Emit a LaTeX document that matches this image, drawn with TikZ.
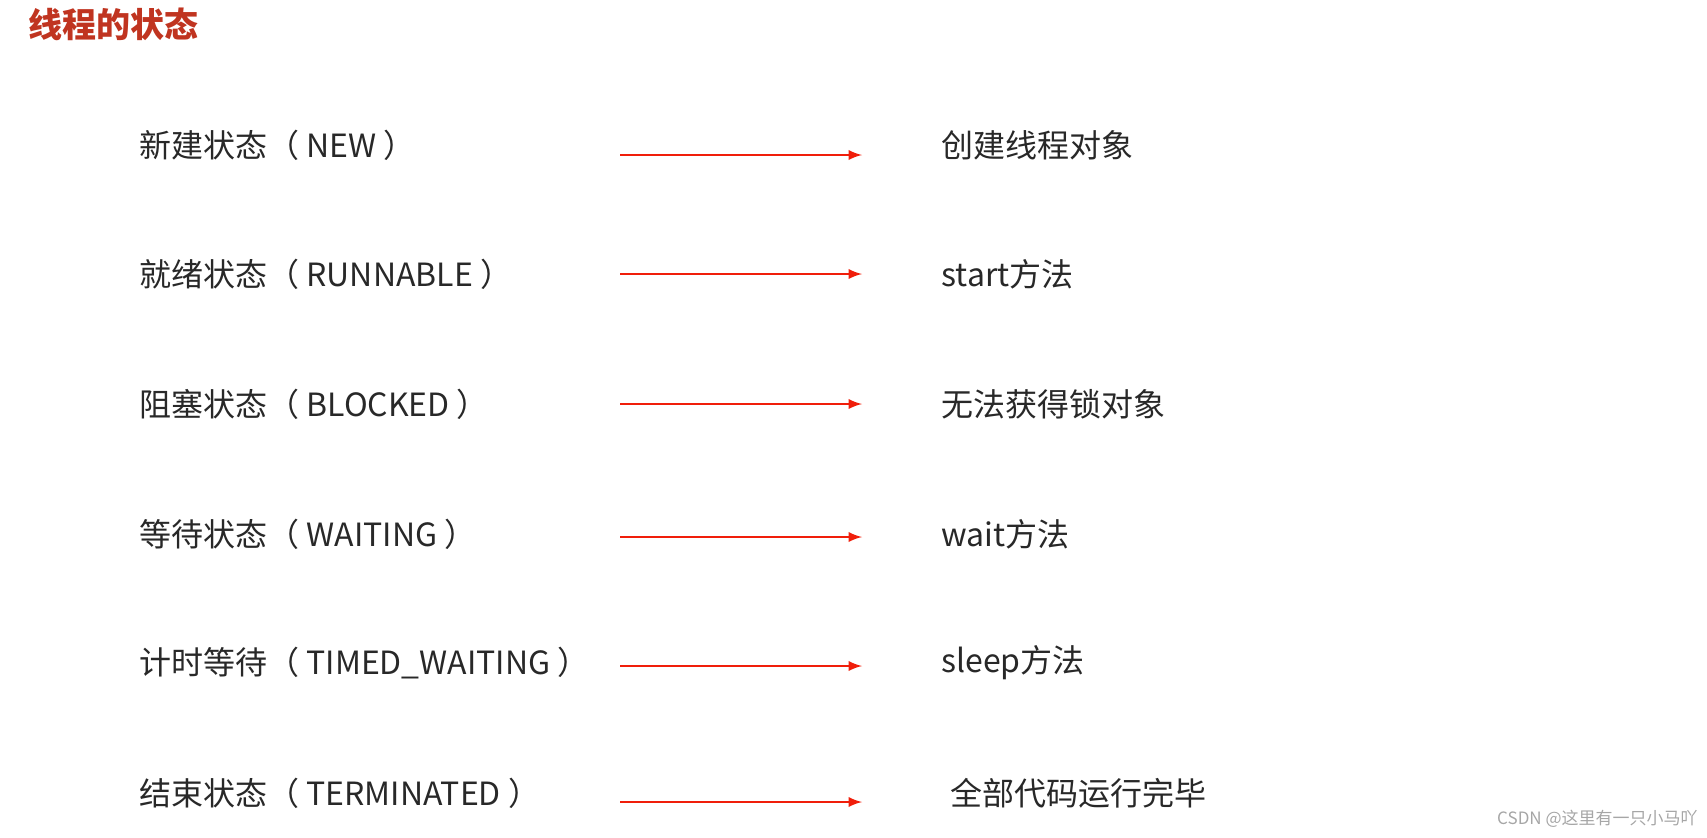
\documentclass[tikz,border=0pt]{standalone}
\usepackage{fontspec}
\setmainfont{Noto Sans CJK SC}
\usetikzlibrary{positioning}
\definecolor{titlered}{RGB}{192,52,32}
\definecolor{arrowred}{RGB}{240,30,10}
\definecolor{txtgray}{RGB}{40,40,40}
\tikzset{>=latex,
	state/.style={anchor=west,inner sep=0pt,font=\fontsize{16}{18}\selectfont,text=txtgray},
	cause/.style={anchor=west,inner sep=0pt,font=\fontsize{16}{18}\selectfont,text=txtgray},
	link/.style={->,arrowred,line width=1.3pt}}
\begin{document}
\begin{tikzpicture}[x=0.5pt,y=-0.5pt]
	\useasboundingbox (0,0) rectangle (1707,837);
	\node (title) at (28,24) [anchor=west,inner sep=0pt,font=\fontsize{17}{20}\bfseries\selectfont,text=titlered] {线程的状态};
	\node (s1) at (139,145) [state] {新建状态（ NEW ）};
	\node (s2) at (139,274) [state] {就绪状态（ RUNNABLE ）};
	\node (s3) at (139,404) [state] {阻塞状态（ BLOCKED ）};
	\node (s4) at (139,534) [state] {等待状态（ WAITING ）};
	\node (s5) at (139,663) [state] {计时等待（ TIMED\_WAITING ）};
	\node (s6) at (139,793) [state] {结束状态（ TERMINATED ）};
	\node (c1) at (941,145) [cause] {创建线程对象};
	\node (c2) at (941,274) [cause] {start方法};
	\node (c3) at (941,404) [cause] {无法获得锁对象};
	\node (c4) at (941,534) [cause] {wait方法};
	\node (c5) at (941,663) [cause] {sleep方法};
	\node (c6) at (950,793) [cause] {全部代码运行完毕};
	\coordinate (a1) at (620,155); \coordinate (b1) at (862,155);
	\coordinate (a2) at (620,274); \coordinate (b2) at (862,274);
	\coordinate (a3) at (620,404); \coordinate (b3) at (862,404);
	\coordinate (a4) at (620,537); \coordinate (b4) at (862,537);
	\coordinate (a5) at (620,666); \coordinate (b5) at (862,666);
	\coordinate (a6) at (620,802); \coordinate (b6) at (862,802);
	\foreach \i in {1,...,6}
		\draw [link] (a\i) -- (b\i);
	\node (mark) at (1698,819) [anchor=east,inner sep=0pt,font=\fontsize{8.5}{10}\selectfont,text=gray!70] {CSDN @这里有一只小马吖};
\end{tikzpicture}
\end{document}
